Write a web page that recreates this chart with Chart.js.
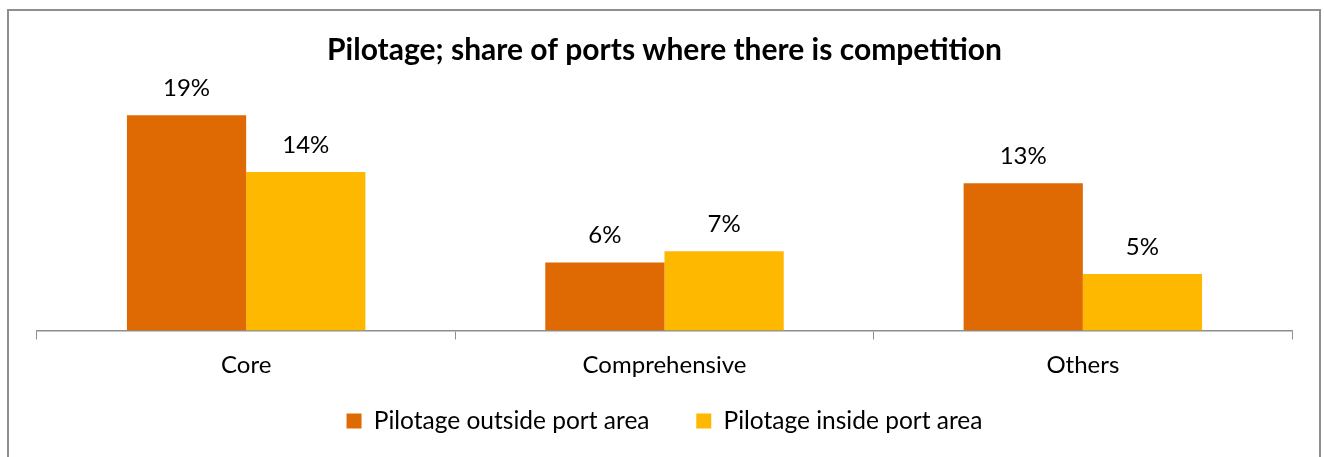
<!DOCTYPE html>
<html lang="en">
<head>
    <meta charset="UTF-8">
    <title>Pilotage competition</title>
    <script src="https://cdn.jsdelivr.net/npm/chart.js"></script>
    <style>
        body { margin: 0; background: #fff; }
        #frame {
            position: absolute; left: 7px; top: 9px;
            width: 1310px; height: 470px;
            border: 2px solid #8e8e8e;
        }
        #wrap { position: absolute; left: 0; top: 0; width: 1324px; height: 457px; }
    </style>
</head>
<body>

<div id="frame"></div>
<div id="wrap"><canvas id="myChart" width="1324" height="457"></canvas></div>

<script>
// Port categories and competition shares (%)
const categories = ['Core', 'Comprehensive', 'Others'];
const outsidePort = [19, 6, 13];
const insidePort = [14, 7, 5];

const FONT = 'Lato, Carlito, Calibri, "Open Sans", sans-serif';

// Writes the percentage above every bar
const valueLabels = {
    id: 'valueLabels',
    afterDatasetsDraw(chart) {
        const ctx = chart.ctx;
        ctx.save();
        ctx.font = '24px ' + FONT;
        ctx.fillStyle = '#000';
        ctx.textAlign = 'center';
        ctx.textBaseline = 'middle';
        chart.data.datasets.forEach((ds, i) => {
            chart.getDatasetMeta(i).data.forEach((bar, j) => {
                ctx.fillText(ds.data[j] + '%', bar.x, bar.y - 27);
            });
        });
        ctx.restore();
    }
};

const ctx = document.getElementById('myChart').getContext('2d');

const myChart = new Chart(ctx, {
    type: 'bar',
    data: {
        labels: categories,
        datasets: [{
            label: 'Pilotage outside port area',
            data: outsidePort,
            backgroundColor: '#DF6A03',
            borderWidth: 0
        }, {
            label: 'Pilotage inside port area',
            data: insidePort,
            backgroundColor: '#FFB800',
            borderWidth: 0
        }]
    },
    options: {
        responsive: false,
        animation: false,
        datasets: {
            bar: { categoryPercentage: 0.57, barPercentage: 1.0 }
        },
        layout: {
            padding: { left: 37, right: 32, top: 0, bottom: 13.75 }
        },
        plugins: {
            title: {
                display: true,
                text: 'Pilotage; share of ports where there is competition',
                color: '#000',
                font: { family: FONT, size: 30, weight: 'bold' },
                padding: { top: 32, bottom: 36 }
            },
            legend: {
                position: 'bottom',
                labels: {
                    color: '#000',
                    font: { family: FONT, size: 24.5 },
                    boxWidth: 15,
                    boxHeight: 15,
                    padding: 10,
                    // trailing en spaces widen the gap between the two items
                    generateLabels(chart) {
                        const items = Chart.defaults.plugins.legend.labels.generateLabels(chart);
                        items.forEach((item, i) => {
                            if (i < items.length - 1) item.text += '\u2002\u2002\u2002';
                        });
                        return items;
                    }
                }
            },
            tooltip: { enabled: false }
        },
        scales: {
            x: {
                grid: {
                    offset: true,
                    drawOnChartArea: false,
                    drawTicks: true,
                    tickLength: 9,
                    color: '#8e8e8e'
                },
                border: { color: '#8e8e8e', width: 1.5 },
                ticks: {
                    color: '#000',
                    font: { family: FONT, size: 24 },
                    padding: 11
                },
                afterFit(scale) { scale.height = 68.25; }
            },
            y: {
                display: false,
                min: 0,
                max: 20
            }
        }
    },
    plugins: [valueLabels]
});
</script>

</body>
</html>
